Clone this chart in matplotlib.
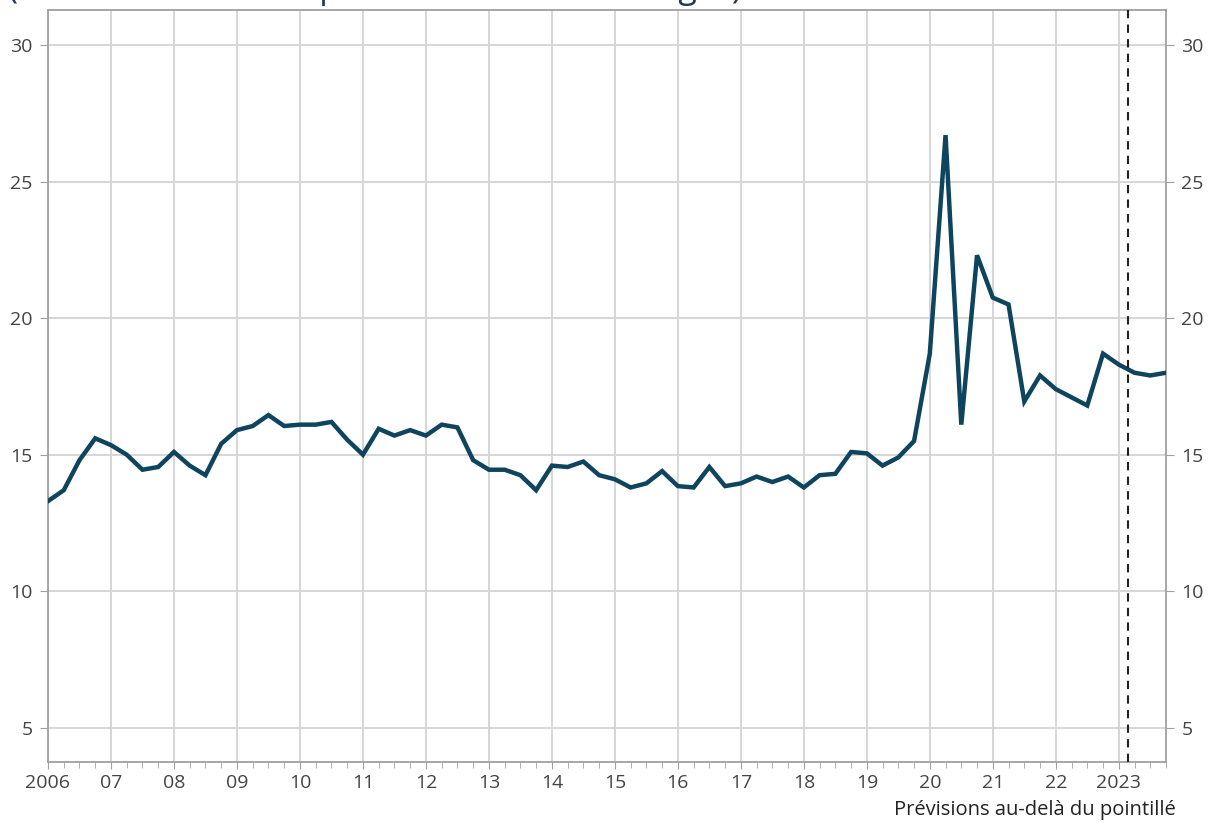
import numpy as np
import matplotlib.pyplot as plt

plt.rcParams['font.family'] = ['Open Sans', 'DejaVu Sans']

# Taux d'épargne des ménages, trimestriel, 2006T1 - 2023T4
start_year = 2006
saving_rate = [
    13.3, 13.7, 14.8, 15.6,   # 2006
    15.35, 15.0, 14.45, 14.55,  # 2007
    15.1, 14.6, 14.25, 15.4,  # 2008
    15.9, 16.05, 16.45, 16.05,  # 2009
    16.1, 16.1, 16.2, 15.55,  # 2010
    15.0, 15.95, 15.7, 15.9,  # 2011
    15.7, 16.1, 16.0, 14.8,  # 2012
    14.45, 14.45, 14.25, 13.7,  # 2013
    14.6, 14.55, 14.75, 14.25,  # 2014
    14.1, 13.8, 13.95, 14.4,  # 2015
    13.85, 13.8, 14.55, 13.85,  # 2016
    13.95, 14.2, 14.0, 14.2,  # 2017
    13.8, 14.25, 14.3, 15.1,  # 2018
    15.05, 14.6, 14.9, 15.5,  # 2019
    18.7, 26.7, 16.1, 22.3,  # 2020
    20.75, 20.5, 16.95, 17.9,  # 2021
    17.4, 17.1, 16.8, 18.7,  # 2022
    18.3, 18.0, 17.9, 18.0,  # 2023
]
year_labels = ['2006', '07', '08', '09', '10', '11', '12', '13', '14',
               '15', '16', '17', '18', '19', '20', '21', '22', '2023']
y_ticks = [5, 10, 15, 20, 25, 30]
forecast_start = 2023.15

x = start_year + np.arange(len(saving_rate)) / 4

fig = plt.figure(figsize=(12.09, 8.23), dpi=100)
ax = fig.add_axes([48 / 1209, 61 / 823, 1118 / 1209, 752 / 823])

ax.plot(x, saving_rate, color='#0f445f', lw=3.2, solid_joinstyle='miter', zorder=3)
ax.axvline(forecast_start, color='#222222', lw=1.5, ls=(0, (4, 3)), zorder=4)

ax.set_xlim(2006, 2023.75)
ax.set_ylim(3.75, 31.28)

year_pos = np.arange(2006, 2024)
ax.set_xticks(year_pos)
ax.set_xticklabels(year_labels)
ax.set_xticks(np.arange(2006, 2023.76, 0.25), minor=True)
ax.set_yticks(y_ticks)

ax.grid(True, which='major', color='#d6d6d6', lw=1.4, zorder=0)
ax.tick_params(axis='x', which='major', direction='out', length=5, color='#a0a0a0',
               labelsize=14, labelcolor='#444444', pad=4)
ax.tick_params(axis='x', which='minor', direction='out', length=4, color='#a0a0a0')
ax.tick_params(axis='y', which='major', direction='out', length=6, color='#a0a0a0',
               labelsize=14, labelcolor='#444444', right=True, labelright=True, pad=5)
for side in ['left', 'right', 'top', 'bottom']:
    ax.spines[side].set_color('#a0a0a0')
    ax.spines[side].set_linewidth(1.3)

fig.text(1176 / 1209, 1 - 810 / 823, 'Prévisions au-delà du pointillé',
         ha='right', va='center', fontsize=14.5, color='#222222')
# titre partiellement hors cadre en haut
fig.text(8 / 1209, 1 + 2 / 823, '(en % du revenu disponible brut des ménages)',
         ha='left', va='baseline', fontsize=24.5, color='#1f3b57')

fig.savefig('out.png', dpi=100)
